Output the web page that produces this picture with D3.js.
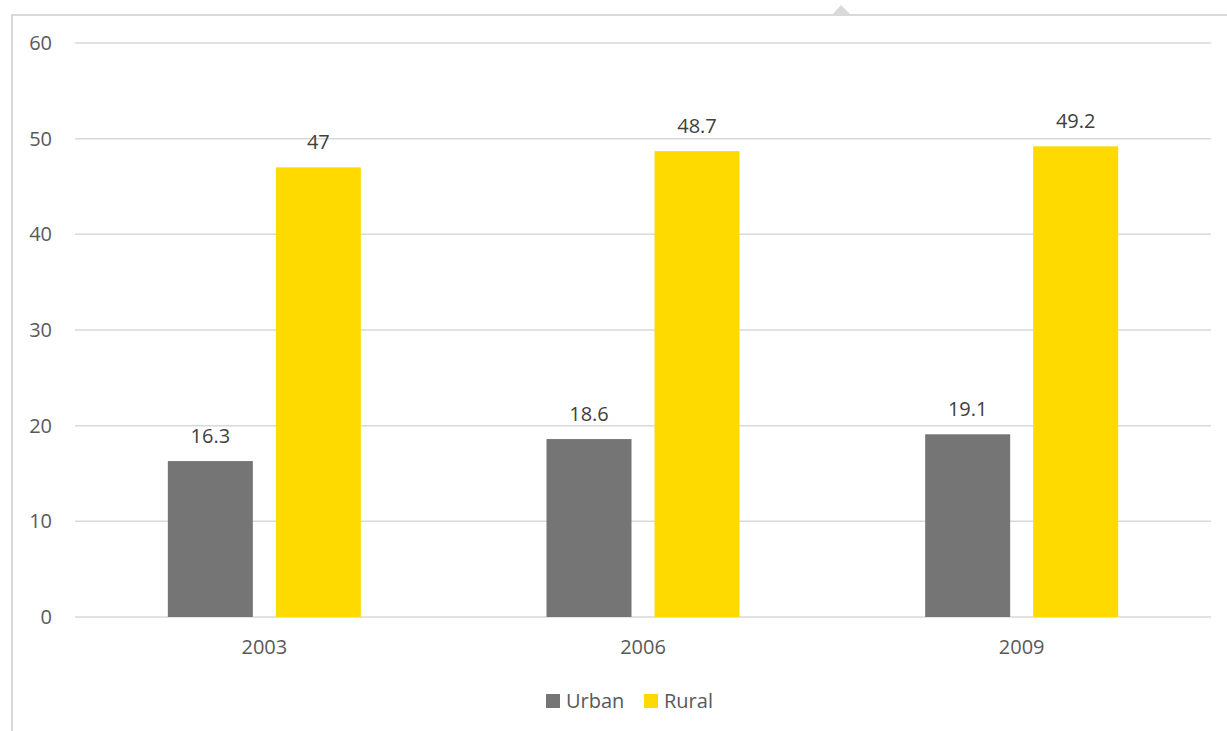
<!DOCTYPE html>
<html><head><meta charset="utf-8">
<script src="https://cdn.jsdelivr.net/npm/d3@7"></script>
<style>
html,body{margin:0;padding:0;background:#fff;}
svg{display:block;font-family:"Open Sans","Segoe UI",sans-serif;}
</style></head>
<body>
<svg id="chart" width="1227" height="731"></svg>
<script>
const categories = ["2003", "2006", "2009"];
const seriesNames = ["Urban", "Rural"];
const urban = [16.3, 18.6, 19.1];
const rural = [47, 48.7, 49.2];
const yTicks = [0, 10, 20, 30, 40, 50, 60];
const colors = ["#757575", "#FFDA00"];

(function () {
const svg = d3.select("#chart");
const W = 1227, H = 731;
const pLeft = 75, pRight = 1211, pTop = 43, pBottom = 617;
const fs = 20;

// frame
svg.append("path").attr("d", `M12,${H+5} L12,15 L${W+5},15`)
  .attr("fill", "none").attr("stroke", "#d9d9d9").attr("stroke-width", 2);
svg.append("path").attr("d", "M832,15 L841,5 L851,15 Z").attr("fill", "#d9d9d9");

const x0 = d3.scaleBand().domain(categories).range([pLeft, pRight]).paddingInner(0).paddingOuter(0);
const y = d3.scaleLinear().domain([0, 60]).range([pBottom, pTop]);

// gridlines
svg.append("g").selectAll("line").data(yTicks).join("line")
  .attr("x1", pLeft).attr("x2", pRight)
  .attr("y1", d => y(d)).attr("y2", d => y(d))
  .attr("stroke", "#d9d9d9").attr("stroke-width", 1.5);

// y axis labels
const yAxis = d3.axisLeft(y).tickValues(yTicks).tickSize(0).tickPadding(0).tickFormat(d3.format("d"));
const yg = svg.append("g").attr("transform", `translate(52,0)`).call(yAxis);
yg.select(".domain").remove();
yg.selectAll("text").attr("font-size", fs).attr("fill", "#595959")
  .attr("font-family", "Open Sans").attr("text-anchor", "end").attr("dx", 0);

// x axis labels
const xAxis = d3.axisBottom(x0).tickSize(0).tickPadding(0);
const xg = svg.append("g").attr("transform", `translate(0,${pBottom + 23})`).call(xAxis);
xg.select(".domain").remove();
xg.selectAll("text").attr("font-size", fs).attr("fill", "#595959").attr("font-family", "Open Sans");

// bars
const barW = 85, gap = 23;
const x1 = d3.scaleOrdinal().domain(seriesNames).range([-(gap/2 + barW), gap/2]);
const data = categories.map((c, i) => ({cat: c, vals: [
  {s: "Urban", v: urban[i], c: colors[0]},
  {s: "Rural", v: rural[i], c: colors[1]}]}));

const groups = svg.append("g").selectAll("g").data(data).join("g")
  .attr("transform", d => `translate(${x0(d.cat) + x0.bandwidth()/2},0)`);
groups.selectAll("rect").data(d => d.vals).join("rect")
  .attr("x", d => x1(d.s)).attr("width", barW)
  .attr("y", d => y(d.v)).attr("height", d => y(0) - y(d.v))
  .attr("fill", d => d.c);
groups.selectAll("text").data(d => d.vals).join("text")
  .attr("x", d => x1(d.s) + barW/2).attr("y", d => y(d.v) - 18)
  .attr("text-anchor", "middle").attr("font-size", fs).attr("fill", "#404040")
  .text(d => d.v);

// legend
const legend = svg.append("g").attr("transform", "translate(546,701)");
const legX = [0, 98];
seriesNames.forEach((s, i) => {
  const g = legend.append("g").attr("transform", `translate(${legX[i]},0)`);
  g.append("rect").attr("x", 0).attr("y", -7).attr("width", 14).attr("height", 14).attr("fill", colors[i]);
  g.append("text").attr("x", 20).attr("y", 0).attr("dy", "0.35em")
    .attr("font-size", fs).attr("fill", "#595959").text(s);
});
})();
</script>
</body></html>
